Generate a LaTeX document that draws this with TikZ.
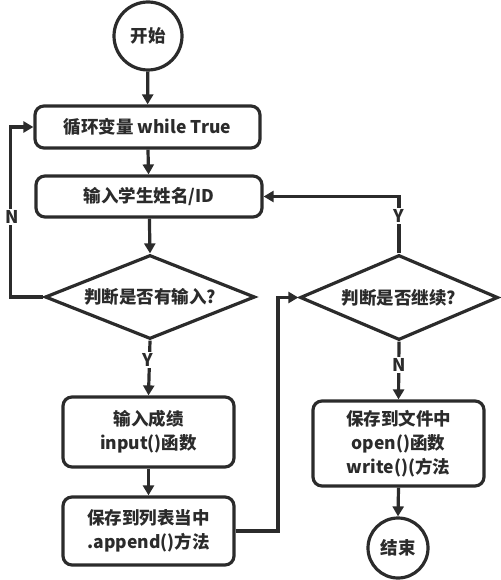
\documentclass[tikz,border=0pt]{standalone}
\usepackage{fontspec}
\setmainfont{Noto Sans CJK SC}
\usetikzlibrary{shapes.geometric,arrows.meta}
\definecolor{ink}{HTML}{2B2B2B}
\begin{document}
\begin{tikzpicture}[x=1pt,y=-1pt,
  every node/.style={font=\fontsize{17.5}{24}\selectfont\bfseries, text=ink},
  line/.style={draw=ink, line width=3.2pt},
  arr/.style={line, -{Triangle[length=10pt,width=11pt]}},
  proc/.style={draw=ink, line width=3.2pt, rounded corners=9pt, align=center, inner sep=0pt},
  term/.style={draw=ink, line width=3.2pt, circle, inner sep=0pt},
  dec/.style={draw=ink, line width=3.2pt, diamond, inner sep=0pt},
  lab/.style={fill=white, inner sep=1.5pt}]
\useasboundingbox (0,0) rectangle (500,580);
\node[term, minimum size=68pt] (start) at (148,36) {开始};
\node[proc, minimum width=225pt, minimum height=42pt] (b1) at (147.5,127) {循环变量 while True};
\node[proc, minimum width=226pt, minimum height=41pt] (b2) at (149,196.5) {输入学生姓名/ID};
\node[dec, minimum width=210pt, minimum height=84pt] (d1) at (150,297) {};
\node at (d1.center) {判断是否有输入?};
\node[proc, minimum width=171pt, minimum height=70pt] (b3) at (148.5,432) {输入成绩\\input()函数};
\node[proc, minimum width=171pt, minimum height=68pt] (b4) at (148.5,531) {保存到列表当中\\.append()方法};
\node[dec, minimum width=198pt, minimum height=85pt] (d2) at (399,297.5) {};
\node at (d2.center) {判断是否继续?};
\node[proc, minimum width=171pt, minimum height=85pt] (b5) at (398.5,443.5) {保存到文件中\\open()函数\\write()(方法};
\node[term, minimum size=60pt] (end) at (398,548) {结束};

\draw[arr] (start) -- (b1);
\draw[arr] (b1) -- (b2);
\draw[arr] (b2) -- (d1.north);
\draw[arr] (d1.south) -- (b3.north);
\node[lab] (y1) at (148,360) {Y};
\draw[arr] (b3) -- (b4);
\draw[arr] (d1.west) -- ++(-33,0) |- (b1.west);
\node[lab] (n1) at (12,217) {N};
\draw[arr] (b4.east) -- (278,531) |- (d2.west);
\draw[arr] (d2.north) |- (b2.east);
\node[lab] (y2) at (399,216) {Y};
\draw[arr] (d2.south) -- (b5.north);
\node[lab] (n2) at (399,365) {N};
\draw[arr] (b5.south) -- (end.north);
\end{tikzpicture}
\end{document}
